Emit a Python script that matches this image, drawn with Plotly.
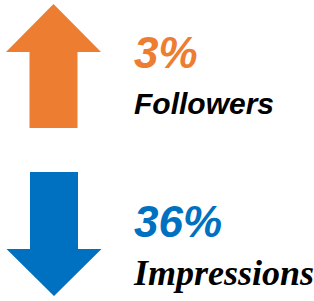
import plotly.graph_objects as go

# Data
metrics = ["Followers", "Impressions"]
changes = [3, 36]
directions = ["up", "down"]
colors = ["#ED7D31", "#0070C0"]
label_fonts = ["Liberation Sans", "Liberation Serif"]

W, H = 314, 301

fig = go.Figure()

# arrow geometry (layout): center x, top y, bottom y, head length, head half width, shaft half width
arrow_specs = [
    dict(cx=53.5, top=4, bottom=128, head=48, hw=47.5, sw=24),
    dict(cx=54, top=172, bottom=296, head=47, hw=47.5, sw=24),
]
text_specs = [
    dict(x=132, yv=52, yl=103, lsize=30),
    dict(x=131, yv=221, yl=273, lsize=36),
]

for m, c, d, col, lf, a, t in zip(metrics, changes, directions, colors, label_fonts, arrow_specs, text_specs):
    cx, top, bot, hl, hw, sw = a["cx"], a["top"], a["bottom"], a["head"], a["hw"], a["sw"]
    if d == "up":
        xs = [cx, cx + hw, cx + sw, cx + sw, cx - sw, cx - sw, cx - hw, cx]
        ys = [top, top + hl, top + hl, bot, bot, top + hl, top + hl, top]
    else:
        xs = [cx, cx + hw, cx + sw, cx + sw, cx - sw, cx - sw, cx - hw, cx]
        ys = [bot, bot - hl, bot - hl, top, top, bot - hl, bot - hl, bot]
    fig.add_trace(go.Scatter(x=xs, y=ys, mode="lines", fill="toself",
                             fillcolor=col, line=dict(width=0, color=col),
                             hoverinfo="skip", showlegend=False))
    fig.add_annotation(x=132, y=t["yv"], xref="x", yref="y", xanchor="left", yanchor="middle",
                       text=f"{c}%", showarrow=False,
                       font=dict(family="Liberation Sans", size=44, color=col, weight="bold", style="italic"))
    fig.add_annotation(x=t["x"], y=t["yl"], xref="x", yref="y", xanchor="left", yanchor="middle",
                       text=m, showarrow=False,
                       font=dict(family=lf, size=t["lsize"],
                                 color="black", weight="bold", style="italic"))

fig.update_layout(width=W, height=H, margin=dict(l=0, r=0, t=0, b=0),
                  paper_bgcolor="white", plot_bgcolor="white", showlegend=False)
fig.update_xaxes(range=[0, W], visible=False, fixedrange=True)
fig.update_yaxes(range=[H, 0], visible=False, fixedrange=True)

fig.write_html("out.html", config={"displayModeBar": False},
               post_script="document.body.style.margin='0';document.body.style.overflow='hidden';")
